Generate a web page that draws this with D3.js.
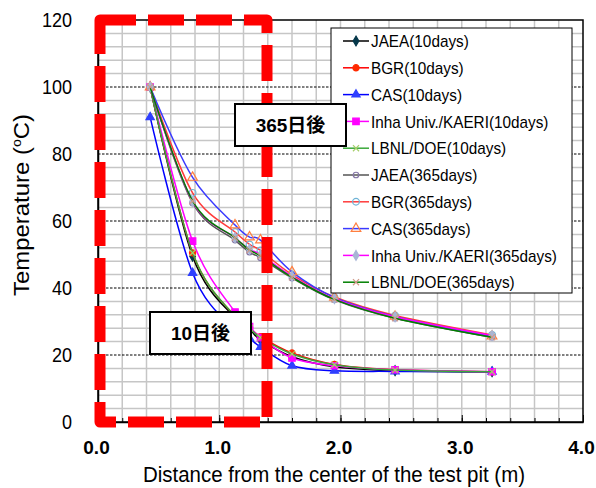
<!DOCTYPE html>
<html>
<head>
<meta charset="utf-8">
<script src="https://cdn.jsdelivr.net/npm/d3@7"></script>
<style>
  html, body { margin: 0; padding: 0; background: #fff; }
  svg { display: block; }
</style>
</head>
<body>
<div id="chart"></div>
<script>
// Distance from the centre of the test pit (m) at which temperature is reported
const distance = [0.43, 0.78, 1.13, 1.25, 1.34, 1.6, 1.95, 2.45, 3.25];

// Temperature (°C) after 10 days
const jaea10 = [100, 49.5, 31, 27.8, 24.5, 19.5, 16.5, 15.3, 15];
const bgr10  = [100, 50.5, 31.5, 28.2, 25.5, 20.6, 17.2, 15.6, 15];
const cas10  = [91, 44.5, 27.5, 25, 22.4, 16.8, 15.3, 15.1, 15];
const inha10 = [100, 54, 32.8, 28.5, 25.2, 19.1, 16.8, 15.6, 15];
const lbnl10 = [100, 50.5, 31.5, 28, 25.2, 20.3, 17.1, 15.5, 15];

// Temperature (°C) after 365 days
const jaea365 = [100, 65.4, 54.3, 50.7, 49, 43, 36.5, 31, 25.3];
const bgr365  = [100, 68.4, 56.7, 53, 51.2, 44, 37.3, 31.8, 26];
const cas365  = [100, 73, 58.8, 55.2, 54.3, 44.8, 37.2, 31.5, 25.6];
const inha365 = [100, 65.8, 55, 51.5, 50, 43.5, 36.8, 31.4, 25.8];
const lbnl365 = [100, 66, 55, 51.3, 49.6, 43.2, 36.6, 31, 25.3];

const seriesLabels = [
  "JAEA(10days)", "BGR(10days)", "CAS(10days)", "Inha Univ./KAERI(10days)", "LBNL/DOE(10days)",
  "JAEA(365days)", "BGR(365days)", "CAS(365days)", "Inha Univ./KAERI(365days)", "LBNL/DOE(365days)"
];
const seriesValues = [jaea10, bgr10, cas10, inha10, lbnl10, jaea365, bgr365, cas365, inha365, lbnl365];

const xTicks = [0, 1, 2, 3, 4];
const yTicks = [0, 20, 40, 60, 80, 100, 120];
const xTitle = "Distance from the center of the test pit (m)";
const yTitle = "Temperature (";
const note365 = "365日後";
const note10 = "10日後";

// Line and marker styling for each series
const styles = [
  { line: "#000000", symbol: d3.symbolDiamond, size: 28, fill: "#06384a", stroke: "#06384a" },
  { line: "#ff0000", symbol: d3.symbolCircle, size: 30, fill: "#ff2a00", stroke: "#ff2a00" },
  { line: "#0000ff", symbol: d3.symbolTriangle, size: 30, fill: "#2f3fff", stroke: "#2f3fff" },
  { line: "#ff00ff", symbol: d3.symbolSquare, size: 42, fill: "#ff00ff", stroke: "#ff00ff" },
  { line: "#3aa83a", symbol: d3.symbolX, size: 26, fill: "none", stroke: "#a6cf6a" },
  { line: "#555555", symbol: d3.symbolCircle, size: 24, fill: "none", stroke: "#8577a6" },
  { line: "#ff3b3b", symbol: d3.symbolCircle, size: 36, fill: "none", stroke: "#6fb3d6" },
  { line: "#3a3aff", symbol: d3.symbolTriangle, size: 40, fill: "none", stroke: "#ff7f40" },
  { line: "#ff00ff", symbol: d3.symbolDiamond, size: 28, fill: "#a9b6d6", stroke: "#a9b6d6" },
  { line: "#008000", symbol: d3.symbolX, size: 26, fill: "none", stroke: "#d09a8a" }
];

const W = 596, H = 488;
const svg = d3.select("#chart").append("svg").attr("width", W).attr("height", H);

const x = d3.scaleLinear().domain([0, 4]).range([98, 583]);
const y = d3.scaleLinear().domain([0, 120]).range([422, 20]);

const baseFont = "'Liberation Sans', Arial, sans-serif";
const cjkFont = "'Liberation Sans', 'Noto Sans CJK JP', sans-serif";

// Squeeze text horizontally to give a narrow typeface look
function condense(sel, factor) {
  sel.each(function () {
    const w = this.getComputedTextLength();
    d3.select(this).attr("textLength", w * factor).attr("lengthAdjust", "spacingAndGlyphs");
  });
}

// Gridlines
const grid = svg.append("g");
const vGrid = d3.range(1, 20).map(i => i * 0.2);
grid.selectAll("line.v").data(vGrid).join("line")
  .attr("x1", d => x(d)).attr("x2", d => x(d))
  .attr("y1", y(120)).attr("y2", y(0))
  .attr("stroke", "#c6c6c6").attr("stroke-width", 1.5);
const hMinor = d3.range(1, 30).map(i => i * 4).filter(v => v % 20 !== 0);
grid.selectAll("line.h").data(hMinor).join("line")
  .attr("x1", x(0)).attr("x2", x(4))
  .attr("y1", d => y(d)).attr("y2", d => y(d))
  .attr("stroke", "#c6c6c6").attr("stroke-width", 1.5);
grid.selectAll("line.hm").data(yTicks.filter(v => v > 0 && v < 120)).join("line")
  .attr("x1", x(0)).attr("x2", x(4))
  .attr("y1", d => y(d)).attr("y2", d => y(d))
  .attr("stroke", "#000").attr("stroke-width", 1).attr("stroke-dasharray", "2.5,1.5");

// Plot frame
svg.append("rect")
  .attr("x", x(0)).attr("y", y(120))
  .attr("width", x(4) - x(0)).attr("height", y(0) - y(120))
  .attr("fill", "none").attr("stroke", "#000").attr("stroke-width", 1.5);

// Axes
const xAxis = svg.append("g").attr("transform", `translate(0,${y(0)})`)
  .call(d3.axisBottom(x).tickValues(xTicks).tickFormat(d3.format(".1f"))
    .tickSizeInner(-7).tickSizeOuter(0).tickPadding(19));
xAxis.select(".domain").attr("stroke", "#000").attr("stroke-width", 1.5);
xAxis.selectAll("text").attr("font-family", baseFont).attr("font-size", 19)
  .attr("font-weight", "bold").attr("fill", "#000").attr("dx", -2);
svg.append("g").attr("transform", `translate(0,${y(0)})`)
  .call(d3.axisBottom(x).tickValues(vGrid).tickFormat("").tickSizeInner(-4).tickSizeOuter(0))
  .select(".domain").remove();

const yAxis = svg.append("g").attr("transform", `translate(${x(0)},0)`)
  .call(d3.axisLeft(y).tickValues(yTicks).tickSizeInner(0).tickSizeOuter(0).tickPadding(26));
yAxis.select(".domain").attr("stroke", "#000").attr("stroke-width", 1.5);
yAxis.selectAll("text").attr("font-family", baseFont).attr("font-size", 20.5).attr("fill", "#000")
  .call(condense, 0.88);

// Axis titles
svg.append("text")
  .attr("x", 334).attr("y", 482).attr("text-anchor", "middle")
  .attr("font-family", baseFont).attr("font-size", 21.5).attr("fill", "#000")
  .attr("textLength", 382).attr("lengthAdjust", "spacingAndGlyphs")
  .text(xTitle);
const yt = svg.append("text")
  .attr("transform", `translate(29,205) rotate(-90)`)
  .attr("text-anchor", "middle")
  .attr("font-family", baseFont).attr("font-size", 22).attr("fill", "#000")
  .attr("textLength", 182).attr("lengthAdjust", "spacingAndGlyphs");
yt.append("tspan").text(yTitle);
yt.append("tspan").attr("font-size", 13).attr("dy", -8).text("o");
yt.append("tspan").attr("dy", 8).text("C)");

// Series lines and markers
const line = d3.line()
  .x((d, i) => x(distance[i]))
  .y(d => y(d))
  .curve(d3.curveCardinal.tension(0));

const plot = svg.append("g");
seriesValues.forEach((vals, k) => {
  const s = styles[k];
  const g = plot.append("g");
  g.append("path").datum(vals)
    .attr("d", line).attr("fill", "none")
    .attr("stroke", s.line).attr("stroke-width", 1.5);
  g.selectAll("path.m").data(vals).join("path")
    .attr("transform", (d, i) => `translate(${x(distance[i])},${y(d)})`)
    .attr("d", d3.symbol(s.symbol, s.size))
    .attr("fill", s.fill).attr("stroke", s.stroke).attr("stroke-width", 1.2);
});

// Red dashed outline marking the near-field zone
const zone = d3.path();
zone.moveTo(100, y(120));
zone.lineTo(267, y(120));
zone.lineTo(267, y(0));
zone.lineTo(100, y(0));
zone.closePath();
svg.append("path")
  .attr("d", zone.toString())
  .attr("fill", "none").attr("stroke", "#ff0000").attr("stroke-width", 11)
  .attr("stroke-dasharray", "36,12").attr("stroke-linejoin", "round");

// Legend
const legend = svg.append("g");
legend.append("rect")
  .attr("x", 331).attr("y", 28).attr("width", 241).attr("height", 265)
  .attr("fill", "#fff").attr("stroke", "#000").attr("stroke-width", 1);
seriesLabels.forEach((label, k) => {
  const s = styles[k];
  const cy = 41 + k * 26.8;
  const row = legend.append("g");
  row.append("line").attr("x1", 343).attr("x2", 369).attr("y1", cy).attr("y2", cy)
    .attr("stroke", s.line).attr("stroke-width", 1.5);
  row.append("path").attr("transform", `translate(356,${cy})`)
    .attr("d", d3.symbol(s.symbol, s.size))
    .attr("fill", s.fill).attr("stroke", s.stroke).attr("stroke-width", 1.2);
  row.append("text").attr("x", 371).attr("y", cy).attr("dy", "0.36em")
    .attr("font-family", baseFont).attr("font-size", 17).attr("fill", "#000")
    .text(label)
    .call(condense, 0.9);
});

// Annotation boxes
function note(x0, y0, w, h, label) {
  const g = svg.append("g");
  g.append("rect").attr("x", x0).attr("y", y0).attr("width", w).attr("height", h)
    .attr("fill", "#fff").attr("stroke", "#000").attr("stroke-width", 2);
  g.append("text").attr("x", x0 + w / 2).attr("y", y0 + h / 2).attr("dy", "0.36em")
    .attr("text-anchor", "middle").attr("font-family", cjkFont)
    .attr("font-weight", "bold").attr("font-size", 19).attr("fill", "#000")
    .text(label);
}
note(235, 104, 111, 42, note365);
note(150, 312, 101, 42, note10);
</script>
</body>
</html>
